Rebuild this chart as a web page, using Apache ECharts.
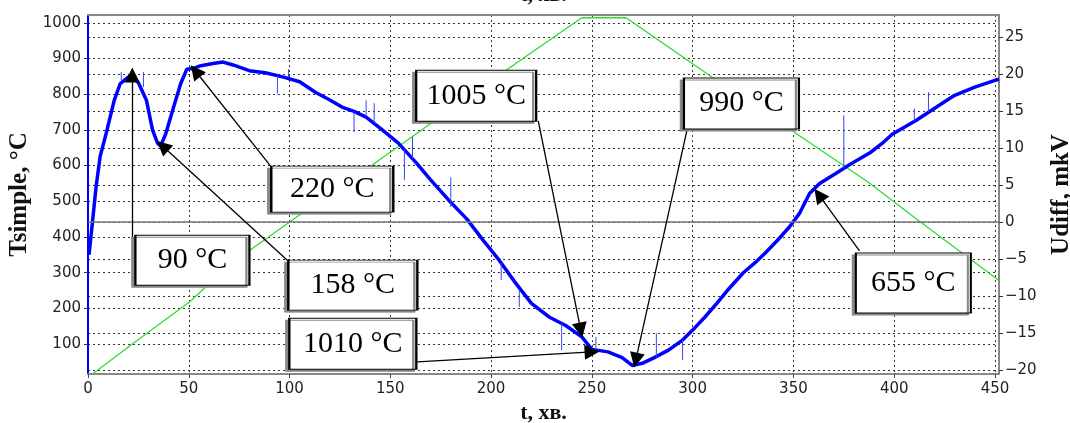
<!DOCTYPE html>
<html>
<head>
<meta charset="utf-8">
<script src="https://cdn.jsdelivr.net/npm/echarts@6/dist/echarts.min.js"></script>
<style>
  html, body { margin: 0; padding: 0; background: #fff; }
  #chart { width: 1070px; height: 423px; }
</style>
</head>
<body>
<div id="chart"></div>
<script>
// Tsimple, °C (left axis) against t, хв.
const tempTime = [0.5, 2, 4, 6, 9, 13, 16, 20, 22, 25, 29, 32, 34.5, 36, 38.5, 42, 46, 49, 52, 56,
  62, 67, 72, 80, 88, 97, 105, 113, 120, 126, 132, 138, 146, 154, 163, 170, 179, 188, 196, 204,
  212, 220, 229, 237, 245, 250, 258, 265, 270, 275, 281, 288, 295, 300, 306, 312, 318, 325, 331, 336,
  342, 348, 353, 358, 363, 371, 378, 388, 394, 399, 411, 421, 430, 440, 450, 452];
const tempValue = [350, 430, 540, 625, 690, 783, 830, 848, 853, 832, 783, 700, 663, 655, 688, 755, 830, 870, 872, 880,
  886, 890, 882, 866, 860, 848, 835, 805, 784, 764, 752, 736, 700, 663, 607, 560, 503, 450, 391, 335,
  272, 214, 175, 152, 120, 85, 78, 62, 40, 46, 62, 83, 111, 139, 175, 214, 255, 299, 328, 355,
  390, 428, 466, 522, 550, 578, 603, 636, 662, 688, 727, 764, 797, 820, 839, 842];

// short noise spikes on the Tsimple trace
const spikeTime = [16.5, 27.5, 94, 99.5, 132, 138, 142, 157, 161, 180, 205, 214, 235, 252, 282, 295, 375, 410, 417];
const spikeLow = [840, 820, 802, 848, 694, 736, 720, 560, 620, 484, 279, 204, 83, 82, 62, 55, 593, 724, 750];
const spikeHigh = [862, 862, 852, 870, 752, 783, 775, 645, 680, 567, 328, 252, 158, 120, 130, 111, 741, 760, 806];

// Udiff, mkV (right axis)
const voltTime = [2.9, 22, 50.3, 71.6, 104.9, 141, 209, 245, 267, 309.5, 349, 387.5, 413, 449.5, 452];
const voltValue = [-20.4, -16.5, -10.8, -5.5, 0.95, 7.7, 20.8, 27.6, 27.6, 19.6, 12.4, 5.3, 0, -7.4, -7.9];

const xTicks = [0, 50, 100, 150, 200, 250, 300, 350, 400, 450];
const leftTicks = [100, 200, 300, 400, 500, 600, 700, 800, 900, 1000];
const rightTicks = [-20, -15, -10, -5, 0, 5, 10, 15, 20, 25];

// callouts: text, box centre [t, T], arrow tail [t, T], arrow tip [t, T]
const noteText = ['90 °C', '220 °C', '158 °C', '1010 °C', '1005 °C', '990 °C', '655 °C'];
const noteBox = [[51.8, 335], [121.2, 534], [131.4, 265], [131.4, 101], [192.6, 796], [324.2, 774], [409.5, 271]];
const noteTail = [[22, 274], [90.5, 599], [98.9, 335], [163.4, 50], [223.4, 725], [297.3, 702], [382.8, 361]];
const noteTip = [[22, 854], [53.3, 865], [37, 655], [250.1, 78], [244.5, 139], [271.8, 55], [362.6, 518]];
const noteSize = [[114, 50], [122, 46], [129, 50], [127, 51], [120, 51], [115, 51], [115, 60]];

const chart = echarts.init(document.getElementById('chart'));

const tickFont = { fontFamily: 'DejaVu Sans', fontSize: 15, color: '#222' };
const nameFont = { fontFamily: 'Liberation Serif', fontWeight: 'bold', fontSize: 25, color: '#111' };
const dotted = { show: true, lineStyle: { color: '#333', width: 1, type: [2, 3] } };

const spikeData = [];
spikeTime.forEach((t, i) => {
  spikeData.push([t, spikeLow[i]], [t, spikeHigh[i]], [t, '-']);
});

const option = {
  animation: false,
  backgroundColor: '#fff',
  grid: { left: 88, right: 71, top: 15, bottom: 49, containLabel: false, outerBoundsMode: 'none' },
  xAxis: [{
    type: 'value',
    min: 0,
    max: 452,
    position: 'bottom',
    axisLine: { onZero: false, lineStyle: { color: '#888', width: 2 } },
    axisTick: { show: true, length: 4, customValues: xTicks, lineStyle: { color: '#444' } },
    axisLabel: Object.assign({ customValues: xTicks, margin: 8 }, tickFont),
    splitLine: dotted,
    name: 't, хв.',
    nameLocation: 'middle',
    nameGap: 26,
    nameTextStyle: Object.assign({}, nameFont, { fontSize: 22 }),
  }, {
    type: 'value',
    min: 0,
    max: 452,
    position: 'top',
    axisLine: { onZero: false, lineStyle: { color: '#888', width: 2 } },
    axisTick: { show: false },
    axisLabel: { show: false },
    splitLine: { show: false },
    name: 't, хв.',
    nameLocation: 'middle',
    nameGap: 9,
    nameTextStyle: Object.assign({}, nameFont, { fontSize: 22 }),
  }],
  yAxis: [{
    type: 'value',
    min: 16,
    max: 1022,
    position: 'left',
    axisLine: { show: true, onZero: false, lineStyle: { color: '#0000ff', width: 2 } },
    axisTick: { show: true, length: 4, customValues: leftTicks, lineStyle: { color: '#333' } },
    axisLabel: Object.assign({ customValues: leftTicks, margin: 7, formatter: v => String(v) }, tickFont),
    splitLine: dotted,
    name: 'Tsimple, °C',
    nameLocation: 'middle',
    nameRotate: 90,
    nameGap: 56,
    nameTextStyle: nameFont,
  }, {
    type: 'value',
    min: -20.54,
    max: 27.97,
    position: 'right',
    axisLine: { show: true, onZero: false, lineStyle: { color: '#888', width: 2 } },
    axisTick: { show: true, length: 4, customValues: rightTicks, lineStyle: { color: '#333' } },
    axisLabel: Object.assign({
      customValues: rightTicks,
      margin: 6,
      formatter: v => String(v).replace('-', '\u2212'),
    }, tickFont),
    splitLine: dotted,
    name: 'Udiff, mkV',
    nameLocation: 'middle',
    nameRotate: 90,
    nameGap: 50,
    nameTextStyle: nameFont,
  }],
  series: [{
    name: 'Udiff',
    type: 'line',
    yAxisIndex: 1,
    showSymbol: false,
    z: 2,
    lineStyle: { color: '#2fdc2f', width: 1.3 },
    data: voltTime.map((t, i) => [t, voltValue[i]]),
    markLine: {
      silent: true,
      symbol: 'none',
      label: { show: false },
      lineStyle: { color: '#777', width: 1.5, type: 'solid' },
      data: [{ yAxis: 0 }],
    },
  }, {
    name: 'Tsimple',
    type: 'line',
    yAxisIndex: 0,
    showSymbol: false,
    z: 3,
    lineStyle: { color: '#0000ff', width: 3.5 },
    data: tempTime.map((t, i) => [t, tempValue[i]]),
  }, {
    name: 'spikes',
    type: 'line',
    yAxisIndex: 0,
    showSymbol: false,
    connectNulls: false,
    z: 3,
    lineStyle: { color: '#3344ff', width: 1 },
    data: spikeData,
  }, {
    name: 'notes',
    type: 'line',
    yAxisIndex: 0,
    z: 5,
    data: [],
    markLine: {
      silent: true,
      symbol: ['none', 'triangle'],
      symbolSize: 15,
      label: { show: false },
      lineStyle: { color: '#000', width: 1.3, type: 'solid' },
      data: noteTail.map((p, i) => [{ coord: p }, { coord: noteTip[i] }]),
    },
    markPoint: {
      silent: true,
      symbol: 'rect',
      itemStyle: {
        color: '#fff',
        borderColor: '#000',
        borderWidth: 1.5,
        shadowColor: '#888',
        shadowOffsetX: -3,
        shadowOffsetY: 2,
        shadowBlur: 0,
      },
      label: {
        show: true,
        position: 'inside',
        formatter: '{b}',
        fontFamily: 'Liberation Serif',
        fontSize: 30,
        color: '#000',
      },
      data: noteText.map((s, i) => ({ name: s, coord: noteBox[i], symbolSize: noteSize[i] })),
    },
  }],
};

chart.setOption(option);
</script>
</body>
</html>
